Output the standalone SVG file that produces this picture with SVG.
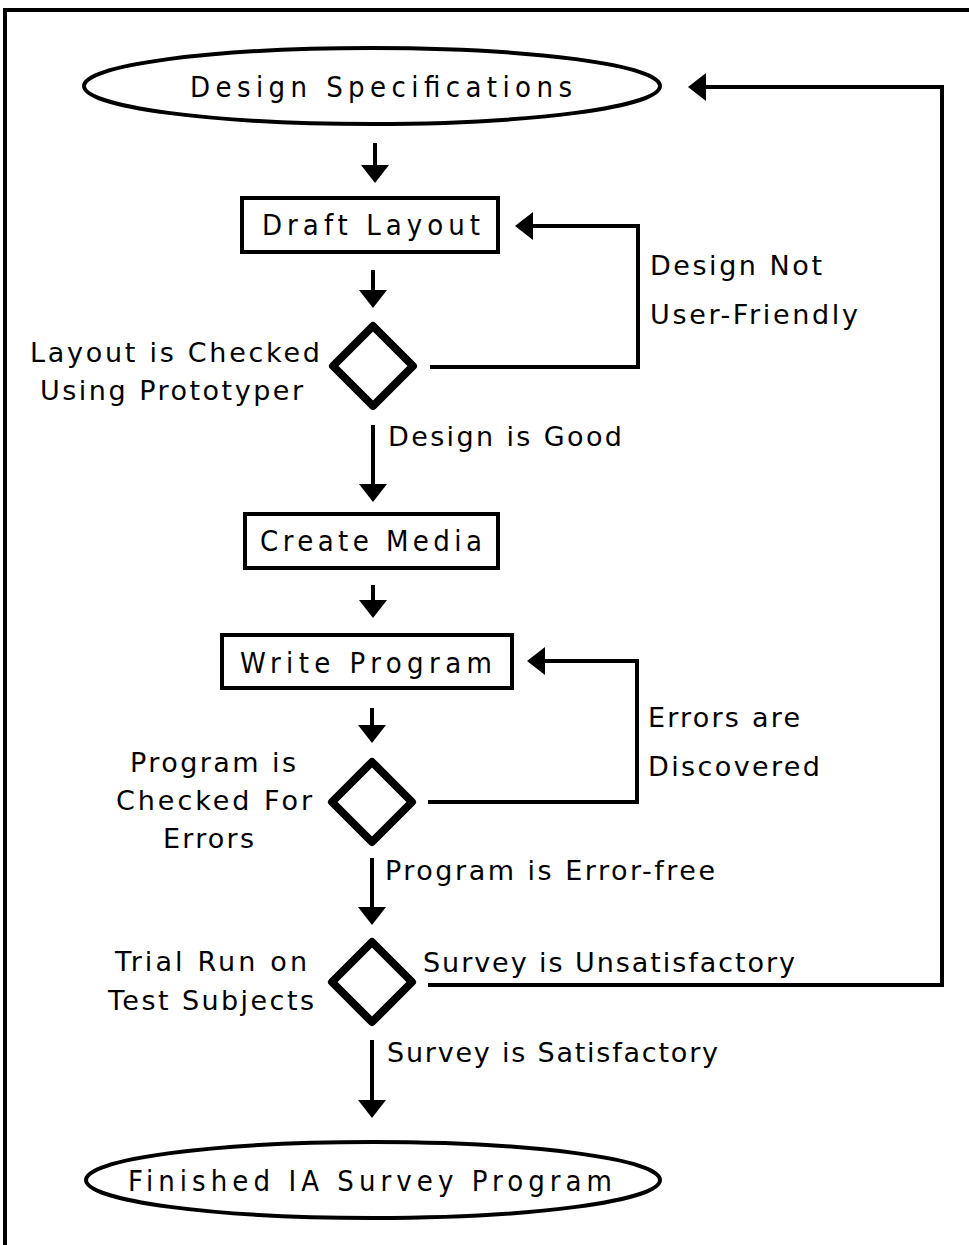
<svg xmlns="http://www.w3.org/2000/svg" width="969" height="1245" viewBox="0 0 969 1245">
  <defs>
    <style>
      .frame { fill: none; stroke: #000; stroke-width: 4; }
      .shape { fill: #fff; stroke: #000; stroke-width: 4; }
      .decision { fill: #fff; stroke: #000; stroke-width: 8; stroke-linejoin: round; }
      .conn { fill: none; stroke: #000; stroke-width: 4; stroke-linejoin: miter; }
      .t { font-family: "DejaVu Sans", "Liberation Sans", sans-serif; font-size: 27px; fill: #000; }
      .n { font-family: "DejaVu Sans Condensed", "DejaVu Sans", sans-serif; font-size: 29px; fill: #000; }
    </style>
    <marker id="head" viewBox="0 0 18 28" refX="12" refY="14" markerWidth="18" markerHeight="28" markerUnits="userSpaceOnUse" orient="auto">
      <path d="M0,0 L18,14 L0,28 z" fill="#000"/>
    </marker>
  </defs>

  <rect width="969" height="1245" fill="#fff"/>

  <!-- page frame -->
  <path class="frame" d="M5,1245 V10 H969"/>

  <!-- connectors -->
  <g id="connectors">
    <path class="conn" d="M375,143 V177" marker-end="url(#head)"/>
    <path class="conn" d="M373,270 V302" marker-end="url(#head)"/>
    <path class="conn" d="M373,425 V496" marker-end="url(#head)"/>
    <path class="conn" d="M373,585 V612" marker-end="url(#head)"/>
    <path class="conn" d="M372,708 V737" marker-end="url(#head)"/>
    <path class="conn" d="M372,858 V919" marker-end="url(#head)"/>
    <path class="conn" d="M372,1040 V1112" marker-end="url(#head)"/>
    <path class="conn" d="M430,367 H638 V226 H521" marker-end="url(#head)"/>
    <path class="conn" d="M428,802 H637 V661 H533" marker-end="url(#head)"/>
    <path class="conn" d="M428,985 H942 V87 H694" marker-end="url(#head)"/>
    <text class="t" x="388" y="446" textLength="234" lengthAdjust="spacing">Design is Good</text>
    <text class="t" x="650" y="275" textLength="172" lengthAdjust="spacing">Design Not</text>
    <text class="t" x="650" y="324" textLength="208" lengthAdjust="spacing">User-Friendly</text>
    <text class="t" x="648" y="727" textLength="152" lengthAdjust="spacing">Errors are</text>
    <text class="t" x="648" y="776" textLength="172" lengthAdjust="spacing">Discovered</text>
    <text class="t" x="385" y="880" textLength="330" lengthAdjust="spacing">Program is Error-free</text>
    <text class="t" x="423" y="972" textLength="372" lengthAdjust="spacing">Survey is Unsatisfactory</text>
    <text class="t" x="387" y="1062" textLength="331" lengthAdjust="spacing">Survey is Satisfactory</text>
  </g>

  <!-- start -->
  <g id="design-specifications">
    <ellipse class="shape" cx="372" cy="86" rx="288" ry="38"/>
    <text class="n" x="190" y="97" textLength="382" lengthAdjust="spacing">Design Specifications</text>
  </g>

  <g id="draft-layout">
    <rect class="shape" x="242" y="198" width="256" height="54"/>
    <text class="n" x="262" y="235" textLength="218" lengthAdjust="spacing">Draft Layout</text>
  </g>

  <g id="layout-check">
    <polygon class="decision" points="373,326 413,366 373,406 333,366"/>
    <text class="t" x="30" y="362" textLength="290" lengthAdjust="spacing">Layout is Checked</text>
    <text class="t" x="40" y="400" textLength="263" lengthAdjust="spacing">Using Prototyper</text>
  </g>

  <g id="create-media">
    <rect class="shape" x="245" y="514" width="253" height="54"/>
    <text class="n" x="260" y="551" textLength="222" lengthAdjust="spacing">Create Media</text>
  </g>

  <g id="write-program">
    <rect class="shape" x="222" y="635" width="290" height="53"/>
    <text class="n" x="240" y="673" textLength="252" lengthAdjust="spacing">Write Program</text>
  </g>

  <g id="program-check">
    <polygon class="decision" points="372,762 412,802 372,842 332,802"/>
    <text class="t" x="130" y="772" textLength="166" lengthAdjust="spacing">Program is</text>
    <text class="t" x="116" y="810" textLength="196" lengthAdjust="spacing">Checked For</text>
    <text class="t" x="163" y="848" textLength="91" lengthAdjust="spacing">Errors</text>
  </g>

  <g id="trial-run">
    <polygon class="decision" points="372,942 412,982 372,1022 332,982"/>
    <text class="t" x="115" y="971" textLength="192" lengthAdjust="spacing">Trial Run on</text>
    <text class="t" x="108" y="1010" textLength="206" lengthAdjust="spacing">Test Subjects</text>
  </g>

  <!-- end -->
  <g id="finished-program">
    <ellipse class="shape" cx="373" cy="1180" rx="287" ry="38"/>
    <text class="n" x="128" y="1191" textLength="484" lengthAdjust="spacing">Finished IA Survey Program</text>
  </g>
</svg>
